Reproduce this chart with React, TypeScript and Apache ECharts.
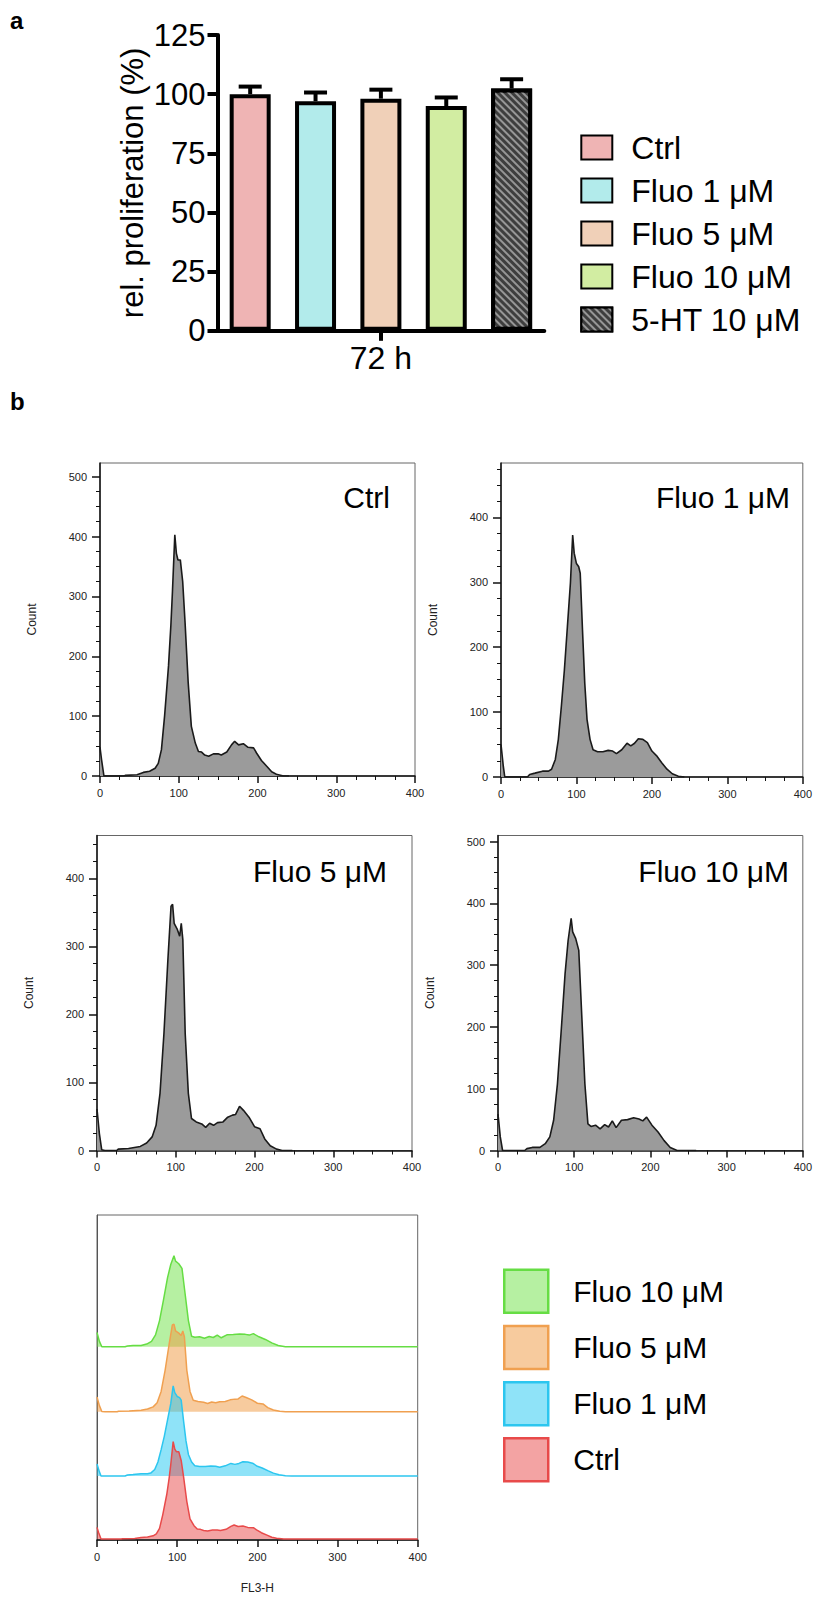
import React, { useEffect, useRef } from 'react';
import * as echarts from 'echarts';

// ---------- Panel a data ----------
const barCategories = ['Ctrl', 'Fluo 1 μM', 'Fluo 5 μM', 'Fluo 10 μM', '5-HT 10 μM'];
const barMeans = [100, 97, 98.1, 95, 102.4];
const barErrors = [3.2, 3.7, 3.8, 3.6, 3.9];
const barColors = ['#efb4b4', '#b2ebeb', '#f0d0b8', '#d2eda2', '#3e3e3e'];
const barTimeLabel = ['72 h'];

// ---------- Panel b data (FL3-H histograms: [channel, count]) ----------
const ctrlHist = [[0,48],[2,27],[5,0],[30,0],[32,1],[47,2],[55,6],[63,8],[70,13],[74,21],[78,44],[82,100],[87,184],[90,252],[92,308],[95,403],[97,372],[99,361],[102,361],[105,325],[108,257],[112,156],[116,83],[121,55],[125,41],[129,40],[133,35],[138,33],[144,37],[150,37],[154,35],[161,40],[167,52],[171,58],[176,52],[182,54],[188,48],[195,47],[199,38],[205,26],[212,16],[218,7],[224,3],[233,0],[240,0]];
const fluo1Hist = [[0,50],[3,17],[5,0],[35,0],[38,4],[45,6],[55,9],[63,9],[67,12],[72,27],[76,58],[80,109],[84,165],[88,232],[92,299],[95,373],[97,345],[100,329],[103,324],[105,314],[108,227],[111,145],[114,89],[118,58],[122,42],[128,39],[135,39],[142,41],[148,40],[153,36],[160,42],[167,52],[172,48],[177,52],[182,59],[188,58],[194,53],[200,40],[206,33],[213,22],[220,12],[227,5],[235,1],[243,0]];
const fluo5Hist = [[0,61],[3,25],[6,1],[10,0],[25,0],[27,2],[40,3],[55,6],[63,11],[70,20],[75,37],[80,84],[85,172],[90,280],[94,359],[96,362],[98,334],[102,325],[105,315],[107,334],[109,310],[112,172],[116,84],[120,47],[126,42],[133,39],[138,34],[143,40],[148,37],[153,41],[160,42],[166,49],[172,52],[176,53],[181,65],[186,59],[193,49],[200,35],[207,32],[213,17],[220,7],[228,2],[235,0],[248,0]];
const fluo10Hist = [[0,59],[3,22],[6,0],[35,0],[38,3],[45,5],[55,5],[62,11],[68,22],[73,49],[78,108],[83,195],[88,286],[92,340],[96,376],[98,354],[102,343],[106,324],[110,216],[114,108],[118,43],[122,39],[128,41],[134,35],[140,42],[145,38],[150,48],[155,37],[162,49],[170,50],[178,53],[185,51],[190,48],[195,54],[202,41],[210,30],[218,16],[226,5],[235,0],[260,0]];
const overlayTail = [[400, 0]];

const histNames = ['Ctrl', 'Fluo 1 μM', 'Fluo 5 μM', 'Fluo 10 μM'];
const histYMax = [523, 484, 463, 510];
const ticks500 = [0, 100, 200, 300, 400, 500];
const ticks400 = [0, 100, 200, 300, 400];
const minor500 = [25, 50, 75, 125, 150, 175, 225, 250, 275, 325, 350, 375, 425, 450, 475];
const minor475 = [25, 50, 75, 125, 150, 175, 225, 250, 275, 325, 350, 375, 425, 450, 475];
const minor450 = [25, 50, 75, 125, 150, 175, 225, 250, 275, 325, 350, 375, 425, 450];
const histMajor = [ticks500, ticks400, ticks400, ticks500];
const histMinor = [minor500, minor475, minor450, minor500];

const overlayOrder = ['Fluo 10 μM', 'Fluo 5 μM', 'Fluo 1 μM', 'Ctrl'];
const overlayLine = ['#66dd44', '#f0a050', '#2cc6ef', '#e84a4a'];
const overlayFill = ['rgba(110,226,70,0.5)', 'rgba(240,152,62,0.5)', 'rgba(32,200,242,0.5)', 'rgba(232,72,72,0.5)'];

const FONT = "'Liberation Sans', Arial, Helvetica, sans-serif";

// layout (pixels)
const panelLayout = [
  { left: 100, top: 463, bottom: 776, titleX: 390, titleY: 497 },
  { left: 501, top: 463, bottom: 777, titleX: 790, titleY: 497 },
  { left: 97, top: 835.5, bottom: 1150.5, titleX: 387, titleY: 871 },
  { left: 498, top: 835.5, bottom: 1150.5, titleX: 789, titleY: 871 },
];
const overlayBaselines = [1346.7, 1411.7, 1476, 1539];
const OVERLAY_H = 110;
const OVERLAY_YMAX = 455;

function histData(name: string) {
  if (name === 'Ctrl') return ctrlHist;
  if (name === 'Fluo 1 μM') return fluo1Hist;
  if (name === 'Fluo 5 μM') return fluo5Hist;
  return fluo10Hist;
}

function buildOption() {
  const grid: any[] = [];
  const xAxis: any[] = [];
  const yAxis: any[] = [];
  const series: any[] = [];
  const graphic: any[] = [];

  // ---------- Panel a ----------
  grid.push({ left: 217.5, top: 35, width: 326.8, height: 295.8 });
  xAxis.push({
    gridIndex: 0, type: 'category', data: barCategories,
    axisLine: { show: false }, axisTick: { show: false }, axisLabel: { show: false },
  });
  xAxis.push({
    gridIndex: 0, type: 'category', data: barTimeLabel, position: 'bottom',
    axisLine: { show: true, lineStyle: { color: '#000', width: 4 } },
    axisTick: { show: true, alignWithLabel: true, length: 10, lineStyle: { color: '#000', width: 4 } },
    axisLabel: { fontSize: 32, color: '#000', margin: 11, fontFamily: FONT },
  });
  yAxis.push({
    gridIndex: 0, type: 'value', min: 0, max: 125, interval: 25,
    axisLine: { show: true, lineStyle: { color: '#000', width: 4 } },
    axisTick: { show: true, length: 10, lineStyle: { color: '#000', width: 4 } },
    axisLabel: { fontSize: 31, color: '#000', margin: 12, fontFamily: FONT },
    splitLine: { show: false },
    name: 'rel. proliferation (%)', nameLocation: 'middle', nameGap: 70,
    nameTextStyle: { fontSize: 31, color: '#000', fontFamily: FONT },
  });
  barCategories.forEach((cat, i) => {
    const s: any = {
      type: 'bar', name: cat, xAxisIndex: 0, yAxisIndex: 0,
      data: barCategories.map((_, j) => (j === i ? barMeans[i] : '-')),
      barWidth: 41, barGap: '-100%',
      itemStyle: { color: barColors[i], borderColor: '#000', borderWidth: 4 },
      silent: true, z: 3,
    };
    if (i === 4) {
      s.itemStyle.decal = {
        symbol: 'rect', symbolSize: 1, color: 'rgba(150,150,150,1)',
        dashArrayX: [1, 0], dashArrayY: [1.4, 2.4], rotation: Math.PI / 4,
      };
    }
    series.push(s);
  });
  series.push({
    type: 'custom', name: 'err', xAxisIndex: 0, yAxisIndex: 0, silent: true, z: 2,
    data: barMeans.map((m, i) => [i, m, barErrors[i]]),
    renderItem: (params: any, api: any) => {
      const i = api.value(0), m = api.value(1), e = api.value(2);
      const base = api.coord([i, m]);
      const top = api.coord([i, m + e]);
      return {
        type: 'group',
        children: [
          { type: 'line', shape: { x1: base[0], y1: base[1], x2: top[0], y2: top[1] }, style: { stroke: '#000', lineWidth: 4 } },
          { type: 'line', shape: { x1: top[0] - 11.5, y1: top[1], x2: top[0] + 11.5, y2: top[1] }, style: { stroke: '#000', lineWidth: 4 } },
        ],
      };
    },
  });

  // ---------- Panel b: four histograms ----------
  histNames.forEach((name, k) => {
    const L = panelLayout[k];
    const gi = grid.length;
    grid.push({
      left: L.left, top: L.top, width: 315, height: L.bottom - L.top,
      show: true, borderColor: '#666', borderWidth: 1, backgroundColor: 'transparent',
    });
    const xi = xAxis.length;
    xAxis.push({
      gridIndex: gi, type: 'value', min: 0, max: 400, interval: 100,
      axisLine: { show: true, onZero: false, lineStyle: { color: '#111', width: 1.5 } },
      axisTick: { show: true, length: 7, lineStyle: { color: '#111', width: 1.5 } },
      minorTick: { show: true, splitNumber: 4, length: 4, lineStyle: { color: '#111', width: 1 } },
      splitLine: { show: false }, minorSplitLine: { show: false },
      axisLabel: { fontSize: 11, color: '#222', margin: 11, fontFamily: FONT },
    });
    const yi = yAxis.length;
    yAxis.push({
      gridIndex: gi, type: 'value', min: 0, max: histYMax[k], position: 'left',
      axisLine: { show: true, onZero: false, lineStyle: { color: '#111', width: 1.5 } },
      axisTick: { show: true, length: 8, customValues: histMajor[k], lineStyle: { color: '#111', width: 1.5 } },
      axisLabel: { customValues: histMajor[k], fontSize: 11, color: '#222', margin: 13, fontFamily: FONT },
      splitLine: { show: false },
      name: 'Count', nameLocation: 'middle', nameGap: 62,
      nameTextStyle: { fontSize: 12, color: '#222', fontFamily: FONT },
    });
    yAxis.push({
      gridIndex: gi, type: 'value', min: 0, max: histYMax[k], position: 'left',
      axisLine: { show: false },
      axisTick: { show: true, length: 4, customValues: histMinor[k], lineStyle: { color: '#111', width: 1 } },
      axisLabel: { show: false }, splitLine: { show: false },
    });
    series.push({
      type: 'line', name: 'hist:' + name, xAxisIndex: xi, yAxisIndex: yi,
      data: histData(name), symbol: 'none', showSymbol: false, silent: true,
      lineStyle: { color: '#1a1a1a', width: 1.6 },
      areaStyle: { color: '#9b9b9b', opacity: 1 },
    });
    graphic.push({
      type: 'text', x: L.titleX, y: L.titleY, silent: true,
      style: { text: name, fontSize: 30, fontFamily: FONT, fill: '#000', align: 'right', verticalAlign: 'middle' },
    });
  });

  // ---------- Panel b: overlay ----------
  const fgi = grid.length;
  grid.push({
    left: 97, top: 1215, width: 320.7, height: 325,
    show: true, borderColor: '#666', borderWidth: 1, backgroundColor: 'transparent',
  });
  xAxis.push({
    gridIndex: fgi, type: 'value', min: 0, max: 400, interval: 100,
    axisLine: { show: true, onZero: false, lineStyle: { color: '#111', width: 1.5 } },
    axisTick: { show: true, length: 7, lineStyle: { color: '#111', width: 1.5 } },
    minorTick: { show: true, splitNumber: 4, length: 4, lineStyle: { color: '#111', width: 1 } },
    splitLine: { show: false }, minorSplitLine: { show: false },
    axisLabel: { fontSize: 11, color: '#222', margin: 11, fontFamily: FONT },
    name: 'FL3-H', nameLocation: 'middle', nameGap: 42,
    nameTextStyle: { fontSize: 12, color: '#222', fontFamily: FONT },
  });
  yAxis.push({
    gridIndex: fgi, type: 'value', min: 0, max: 1,
    axisLine: { show: true, onZero: false, lineStyle: { color: '#555', width: 1 } },
    axisTick: { show: false }, axisLabel: { show: false }, splitLine: { show: false },
  });
  overlayOrder.forEach((name, k) => {
    const gi = grid.length;
    grid.push({ left: 97, top: overlayBaselines[k] - OVERLAY_H, width: 320.7, height: OVERLAY_H });
    const xi = xAxis.length;
    xAxis.push({ gridIndex: gi, type: 'value', min: 0, max: 400, show: false });
    const yi = yAxis.length;
    yAxis.push({ gridIndex: gi, type: 'value', min: 0, max: OVERLAY_YMAX, show: false });
    series.push({
      type: 'line', name: 'overlay:' + name, xAxisIndex: xi, yAxisIndex: yi,
      data: [...histData(name), ...overlayTail], symbol: 'none', showSymbol: false, silent: true,
      clip: false,
      color: overlayLine[k],
      lineStyle: { color: overlayLine[k], width: 1.5 },
      areaStyle: { color: overlayFill[k], opacity: 1 },
    });
  });

  // panel letters
  graphic.push({ type: 'text', x: 10, y: 20, silent: true, style: { text: 'a', fontSize: 24, fontWeight: 'bold', fontFamily: FONT, fill: '#000', verticalAlign: 'middle' } });
  graphic.push({ type: 'text', x: 10, y: 401, silent: true, style: { text: 'b', fontSize: 24, fontWeight: 'bold', fontFamily: FONT, fill: '#000', verticalAlign: 'middle' } });

  const legend = [
    {
      data: barCategories, orient: 'vertical', left: 575.3, top: 126.5,
      itemWidth: 31, itemHeight: 24, itemGap: 11, icon: 'rect', selectedMode: false,
      textStyle: { fontSize: 32, color: '#000', lineHeight: 24, fontFamily: FONT, padding: [0, 0, 0, 14] },
    },
    {
      data: overlayOrder.map((n, k) => ({
        name: 'overlay:' + n,
        itemStyle: { color: overlayFill[k], borderColor: overlayLine[k], borderWidth: 2.5, opacity: 1 },
      })),
      orient: 'vertical', left: 498, top: 1263.5,
      itemWidth: 44, itemHeight: 43, itemGap: 10.7, icon: 'rect', selectedMode: false,
      formatter: (n: string) => n.replace('overlay:', ''),
      textStyle: { fontSize: 30, color: '#000', lineHeight: 30, fontFamily: FONT, padding: [0, 0, 0, 20] },
    },
  ];

  return {
    animation: false,
    backgroundColor: '#fff',
    textStyle: { fontFamily: FONT },
    tooltip: { show: false },
    grid, xAxis, yAxis, series, legend, graphic,
  };
}

export default function App() {
  const ref = useRef<HTMLDivElement>(null);
  useEffect(() => {
    if (!ref.current) return;
    const chart = echarts.init(ref.current, undefined, { renderer: 'svg' });
    chart.setOption(buildOption() as any);
    return () => chart.dispose();
  }, []);
  return (
    <div
      ref={ref}
      style={{ position: 'absolute', left: 0, top: 0, width: 815, height: 1599, background: '#fff' }}
    />
  );
}
